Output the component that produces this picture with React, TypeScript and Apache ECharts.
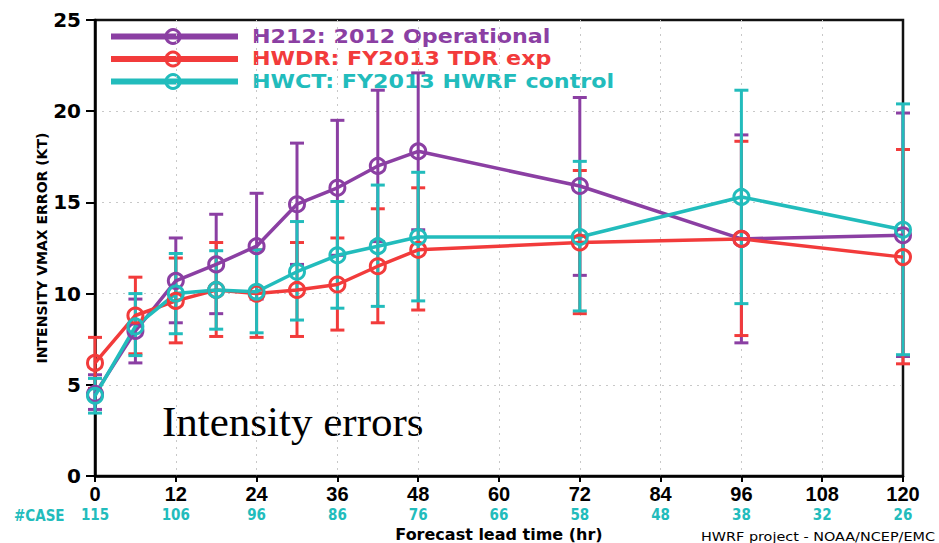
import React, { useEffect, useRef } from "react";
import * as echarts from "echarts";

// Forecast lead times (hr) at which errors were verified
const leadHours = [0, 6, 12, 18, 24, 30, 36, 42, 48, 72, 96, 120];

// H212: 2012 Operational
const h212 = [4.5, 7.95, 10.7, 11.6, 12.6, 14.9, 15.8, 17.0, 17.8, 15.9, 13.0, 13.2];
const h212Low = [3.65, 6.2, 8.4, 8.9, 9.7, 11.6, 12.1, 12.85, 13.5, 11.0, 7.3, 6.55];
const h212High = [5.55, 9.7, 13.05, 14.35, 15.5, 18.25, 19.5, 21.15, 22.1, 20.75, 18.7, 19.9];

// HWDR: FY2013 TDR exp
const hwdr = [6.2, 8.8, 9.6, 10.2, 10.0, 10.2, 10.5, 11.5, 12.4, 12.8, 13.0, 12.0];
const hwdrLow = [4.8, 6.7, 7.3, 7.65, 7.6, 7.65, 8.0, 8.4, 9.1, 8.9, 7.7, 6.15];
const hwdrHigh = [7.6, 10.9, 11.95, 12.8, 12.4, 12.8, 13.05, 14.65, 15.8, 16.75, 18.35, 17.9];

// HWCT: FY2013 HWRF control
const hwct = [4.4, 8.2, 10.0, 10.2, 10.1, 11.2, 12.1, 12.6, 13.1, 13.1, 15.3, 13.5];
const hwctLow = [3.45, 6.6, 7.8, 8.05, 7.85, 8.55, 9.2, 9.3, 9.6, 9.05, 9.45, 6.65];
const hwctHigh = [5.35, 10.0, 12.2, 12.35, 12.4, 13.95, 15.05, 15.95, 16.65, 17.25, 21.15, 20.4];

// Number of verified cases per 12-h tick
const caseHours = [0, 12, 24, 36, 48, 60, 72, 84, 96, 108, 120];
const caseCounts = [115, 106, 96, 86, 76, 66, 58, 48, 38, 32, 26];

const PURPLE = "#8b3fa3";
const RED = "#f23b3b";
const CYAN = "#22bcbc";

const WIDE = "'DejaVu Sans', Verdana, sans-serif";
const COND = "'DejaVu Sans Condensed', 'DejaVu Sans', sans-serif";

const models = [
  { name: "H212: 2012 Operational", color: PURPLE, mean: h212, low: h212Low, high: h212High },
  { name: "HWDR: FY2013 TDR exp", color: RED, mean: hwdr, low: hwdrLow, high: hwdrHigh },
  { name: "HWCT: FY2013 HWRF control", color: CYAN, mean: hwct, low: hwctLow, high: hwctHigh },
];

function errorBar(color: string) {
  return (_params: any, api: any) => {
    const x = api.value(0);
    const top = api.coord([x, api.value(2)]);
    const bot = api.coord([x, api.value(1)]);
    const half = 7;
    const style = { stroke: color, lineWidth: 3 };
    return {
      type: "group",
      children: [
        { type: "line", shape: { x1: top[0], y1: top[1], x2: bot[0], y2: bot[1] }, style },
        { type: "line", shape: { x1: top[0] - half, y1: top[1], x2: top[0] + half, y2: top[1] }, style },
        { type: "line", shape: { x1: bot[0] - half, y1: bot[1], x2: bot[0] + half, y2: bot[1] }, style },
      ],
    };
  };
}

export default function App() {
  const ref = useRef<HTMLDivElement>(null);

  useEffect(() => {
    document.body.style.margin = "0";
    if (!ref.current) return;
    const chart = echarts.init(ref.current, null, { renderer: "svg" });

    const series: any[] = [];
    models.forEach((m) => {
      series.push({
        type: "custom",
        name: m.name + " range",
        renderItem: errorBar(m.color),
        encode: { x: 0, y: [1, 2] },
        clip: false,
        data: leadHours.map((h, i) => [h, m.low[i], m.high[i]]),
      });
      series.push({
        type: "line",
        name: m.name,
        data: leadHours.map((h, i) => [h, m.mean[i]]),
        symbol: "circle",
        symbolSize: 15,
        itemStyle: { color: "rgba(255,255,255,0)", borderColor: m.color, borderWidth: 3 },
        lineStyle: { color: m.color, width: 3.5 },
        clip: false,
      });
    });

    const legendRows = [36.5, 59, 81.5];
    const legendGraphic = models.map((m, i) => ({
      type: "group",
      children: [
        {
          type: "line",
          shape: { x1: 111, y1: legendRows[i], x2: 238, y2: legendRows[i] },
          style: { stroke: m.color, lineWidth: 6 },
        },
        {
          type: "circle",
          shape: { cx: 173, cy: legendRows[i], r: 7 },
          style: { fill: "none", stroke: m.color, lineWidth: 3 },
        },
        {
          type: "text",
          x: 252,
          y: legendRows[i] - 1,
          scaleX: 1.11,
          style: {
            text: m.name,
            x: 0,
            y: 0,
            fill: m.color,
            font: `bold 20px ${WIDE}`,
            verticalAlign: "middle",
            align: "left",
          },
        },
      ],
    }));

    const gridLine = {
      show: true,
      showMinLine: false,
      showMaxLine: false,
      lineStyle: { color: "#c8c8c8", width: 1, type: [2, 5] },
    };

    chart.setOption({
      animation: false,
      backgroundColor: "#ffffff",
      grid: {
        left: 95,
        right: 36,
        top: 20,
        bottom: 67,
        outerBoundsMode: "none",
        containLabel: false,
        show: true,
        borderColor: "#111",
        borderWidth: 2.5,
        backgroundColor: "transparent",
      },
      xAxis: [
        {
          type: "value",
          min: 0,
          max: 120,
          interval: 12,
          axisLine: { lineStyle: { color: "#000", width: 2.5 } },
          axisTick: { show: true, length: 6, lineStyle: { color: "#000", width: 2 } },
          axisLabel: {
            color: "#000",
            fontFamily: "'Liberation Sans', Arial, sans-serif",
            fontWeight: "bold",
            fontSize: 20,
            margin: 8,
          },
          splitLine: gridLine,
          name: "Forecast lead time (hr)",
          nameLocation: "middle",
          nameGap: 50,
          nameMoveOverlap: false,
          nameTextStyle: { color: "#000", fontFamily: WIDE, fontWeight: "bold", fontSize: 16 },
        },
        {
          type: "value",
          position: "bottom",
          offset: 22,
          min: 0,
          max: 120,
          interval: 12,
          axisLine: { show: false },
          axisTick: { show: false },
          splitLine: { show: false },
          axisLabel: {
            color: CYAN,
            fontFamily: COND,
            fontWeight: "bold",
            fontSize: 15,
            margin: 9,
            formatter: (v: number) => {
              const idx = caseHours.indexOf(v);
              return idx >= 0 ? String(caseCounts[idx]) : "";
            },
          },
        },
      ],
      yAxis: {
        type: "value",
        min: 0,
        max: 25,
        interval: 5,
        axisLine: { show: true, lineStyle: { color: "#000", width: 2.5 } },
        axisTick: { show: true, length: 9, lineStyle: { color: "#000", width: 2 } },
        axisLabel: {
          color: "#000",
          fontFamily: WIDE,
          fontWeight: "bold",
          fontSize: 20,
          margin: 14,
        },
        splitLine: gridLine,
        name: "INTENSITY VMAX ERROR (KT)",
        nameLocation: "middle",
        nameGap: 46,
        nameMoveOverlap: false,
        nameTextStyle: { color: "#000", fontFamily: WIDE, fontWeight: "bold", fontSize: 14 },
      },
      graphic: [
        ...legendGraphic,
        {
          type: "text",
          x: 162,
          y: 421,
          style: {
            text: "Intensity errors",
            fill: "#000",
            font: "43px 'Liberation Serif', 'DejaVu Serif', serif",
            verticalAlign: "middle",
            align: "left",
          },
        },
        {
          type: "text",
          x: 14,
          y: 516,
          style: {
            text: "#CASE",
            fill: CYAN,
            font: `bold 15px ${COND}`,
            verticalAlign: "middle",
            align: "left",
          },
        },
        {
          type: "text",
          x: 935,
          y: 537,
          scaleX: 1.2,
          style: {
            text: "HWRF project - NOAA/NCEP/EMC",
            x: 0,
            y: 0,
            fill: "#000",
            font: `12px ${WIDE}`,
            verticalAlign: "middle",
            align: "right",
          },
        },
      ],
      series,
    });

    return () => chart.dispose();
  }, []);

  return <div ref={ref} style={{ width: 939, height: 543 }} />;
}
